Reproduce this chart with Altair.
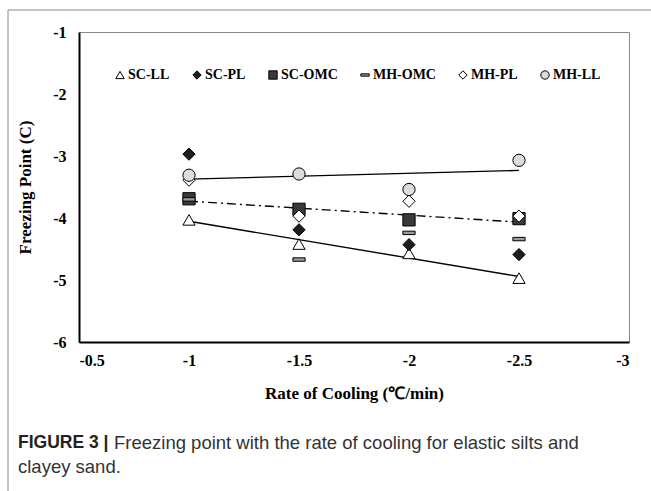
import altair as alt
import pandas as pd

# ---- data ----
rates = [-1, -1.5, -2, -2.5]
series_names = ["SC-LL", "SC-PL", "SC-OMC", "MH-OMC", "MH-PL", "MH-LL"]
sc_ll = [-4.03, -4.42, -4.57, -4.97]
sc_pl = [-2.97, -4.19, -4.43, -4.59]
sc_omc = [-3.69, -3.86, -4.03, -4.01]
mh_omc = [-3.70, -4.67, -4.24, -4.34]
mh_pl = [-3.39, -3.97, -3.73, -3.97]
mh_ll = [-3.31, -3.29, -3.54, -3.07]
x_ticks = [-0.5, -1, -1.5, -2, -2.5, -3]
y_ticks = [-1, -2, -3, -4, -5, -6]

rows = []
for name, vals in zip(series_names, [sc_ll, sc_pl, sc_omc, mh_omc, mh_pl, mh_ll]):
    for x, y in zip(rates, vals):
        rows.append({"series": name, "rate": x, "fp": y})
df = pd.DataFrame(rows)

DASH = "M-1,-0.28L1,-0.28L1,0.28L-1,0.28Z"
shapes = ["triangle-up", "diamond", "square", DASH, "diamond", "circle"]
fills = ["#ffffff", "#1e1e1e", "#3a3a3a", "#9a9a9a", "#ffffff", "#dcdcdc"]
strokes = ["black"] * 6

SERIF = "Liberation Serif"
SANS = "Liberation Sans"

x_enc = alt.X(
    "rate:Q",
    scale=alt.Scale(domain=[-3, -0.5], reverse=True, nice=False, zero=False),
    axis=alt.Axis(
        values=x_ticks,
        labelExpr="toString(datum.value)",
        title="Rate of Cooling (\u2103/min)",
        titleX=275, titleY=51, titleBaseline="middle", titleAlign="center",
        labelPadding=10,
    ),
)
y_enc = alt.Y(
    "fp:Q",
    scale=alt.Scale(domain=[-6, -1], nice=False, zero=False),
    axis=alt.Axis(
        values=y_ticks,
        labelExpr="toString(datum.value)",
        title="Freezing Point (C)",
        titleX=-54, titleY=155, titleAngle=-90, titleBaseline="middle", titleAlign="center",
        labelPadding=13,
    ),
)

base = alt.Chart(df)

def trend(name, dash=None):
    kw = dict(color="black", strokeWidth=1.4)
    if dash:
        kw["strokeDash"] = dash
    return (
        base.transform_filter(alt.datum.series == name)
        .transform_regression("rate", "fp")
        .mark_line(**kw)
        .encode(x=alt.X("rate:Q"), y=alt.Y("fp:Q"))
    )

legend = alt.Legend(orient="none", legendX=34, legendY=36, direction="horizontal",
                    columnPadding=20, symbolSize=70, labelFont=SERIF,
                    labelFontSize=14, labelFontWeight="bold", labelColor="black",
                    labelOffset=1, symbolStrokeWidth=1, padding=0)

points = base.mark_point(filled=True, strokeWidth=1, opacity=1, size=150).encode(
    x=x_enc,
    y=y_enc,
    shape=alt.Shape("series:N", scale=alt.Scale(domain=series_names, range=shapes), title=None, legend=legend),
    fill=alt.Fill("series:N", scale=alt.Scale(domain=series_names, range=fills), title=None, legend=legend),
    stroke=alt.Stroke("series:N", scale=alt.Scale(domain=series_names, range=strokes), title=None, legend=legend),
)

one = alt.Data(values=[{"k": 1}])

frame_top = alt.Chart(one).mark_rule(color="#8a8a8a", strokeWidth=1).encode(
    x=alt.value(-71), x2=alt.value(572), y=alt.value(-22)
)
frame_left = alt.Chart(one).mark_rule(color="#8a8a8a", strokeWidth=1).encode(
    x=alt.value(-71), y=alt.value(-22), y2=alt.value(459)
)
cap1 = alt.Chart(one).mark_text(
    text="FIGURE 3 |", font=SANS, fontSize=17.5, fontWeight="bold", color="#222222",
    align="left", baseline="middle"
).encode(x=alt.value(-61), y=alt.value(411))
cap2 = alt.Chart(one).mark_text(
    text="Freezing point with the rate of cooling for elastic silts and", font=SANS, fontSize=18.5,
    color="#333333", align="left", baseline="middle"
).encode(x=alt.value(35), y=alt.value(411))
cap3 = alt.Chart(one).mark_text(
    text="clayey sand.", font=SANS, fontSize=18.5, color="#333333", align="left", baseline="middle"
).encode(x=alt.value(-61), y=alt.value(435))

chart = alt.layer(
    trend("MH-LL"),
    trend("SC-OMC", [9, 4, 2, 4]),
    trend("SC-LL"),
    points,
    frame_top, frame_left, cap1, cap2, cap3,
).properties(
    width=550, height=310,
    padding={"left": 79, "top": 32, "right": 22, "bottom": 149},
    autosize=alt.AutoSizeParams(type="none"),
    background="white",
).configure_view(
    stroke="#8a8a8a", strokeWidth=1
).configure_axis(
    domainColor="black", domainWidth=2, ticks=False, grid=False,
    labelFont=SERIF, labelFontSize=16, labelFontWeight="bold", labelColor="black",
    titleFont=SERIF, titleFontSize=17, titleFontWeight="bold", titleColor="black",
)

chart.save("out.html", embed_options={"renderer": "svg", "actions": False})
